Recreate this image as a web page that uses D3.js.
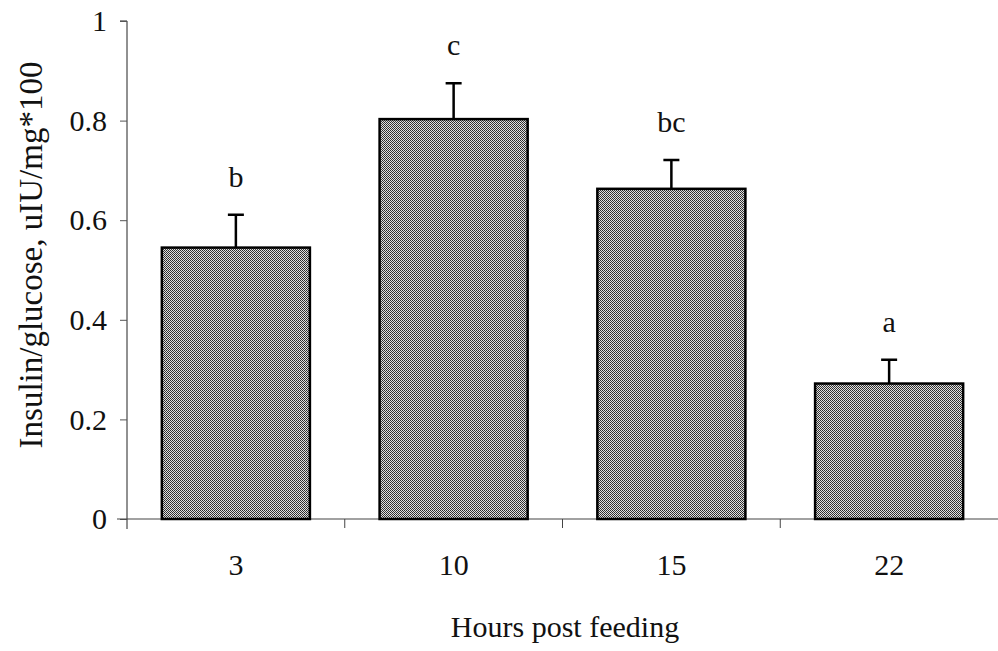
<!DOCTYPE html>
<html>
<head>
<meta charset="utf-8">
<script src="https://cdn.jsdelivr.net/npm/d3@7"></script>
<style>
	body { margin: 0; background: #fff; }
	text { font-family: "Liberation Serif", "DejaVu Serif", serif; fill: #111; }
</style>
</head>
<body>
<script>
var hours = ["3", "10", "15", "22"];
var means = [0.545, 0.803, 0.663, 0.272];
var errors = [0.066, 0.072, 0.058, 0.048];
var letters = ["b", "c", "bc", "a"];
var yTicks = [0, 0.2, 0.4, 0.6, 0.8, 1];

var width = 998, height = 651;
var plotLeft = 127, plotRight = 998, plotTop = 21, plotBottom = 519;

var svg = d3.select("body").append("svg")
	.attr("width", width)
	.attr("height", height);

// dithered grey fill like the scanned figure
var pat = svg.append("defs").append("pattern")
	.attr("id", "dots")
	.attr("width", 2).attr("height", 2)
	.attr("patternUnits", "userSpaceOnUse");
pat.append("rect").attr("width", 2).attr("height", 2).attr("fill", "#e0e0e0");
pat.append("rect").attr("width", 1).attr("height", 1).attr("fill", "#2a2a2a");
pat.append("rect").attr("x", 1).attr("y", 1).attr("width", 1).attr("height", 1).attr("fill", "#3a3a3a");

var x = d3.scaleBand()
	.domain(hours)
	.range([plotLeft, plotRight])
	.paddingInner(0.32)
	.paddingOuter(0.16);

var y = d3.scaleLinear()
	.domain([0, 1])
	.range([plotBottom, plotTop]);

// y axis
var yAxis = svg.append("g")
	.attr("transform", "translate(" + plotLeft + ",0)")
	.call(d3.axisLeft(y).tickValues(yTicks).tickSize(7).tickPadding(13)
		.tickFormat(function (d) { return d === 0 || d === 1 ? d : d3.format(".1f")(d); }));
yAxis.select(".domain").attr("d", "M-7," + y(1) + "H0V" + (plotBottom + 10)).attr("stroke", "#222");
yAxis.selectAll(".tick line").attr("stroke", "#555");
yAxis.selectAll("text").attr("font-size", "30px").attr("fill", "#111");

// x axis
var step = x.step();
var xg = svg.append("g").attr("transform", "translate(0," + plotBottom + ")");
xg.append("line")
	.attr("x1", plotLeft - 10).attr("x2", plotRight)
	.attr("stroke", "#444").attr("stroke-width", 1.2);
xg.selectAll(".sep")
	.data(hours.slice(1))
	.enter().append("line")
	.attr("class", "sep")
	.attr("x1", function (d) { return x(d) - x.paddingInner() * step / 2; })
	.attr("x2", function (d) { return x(d) - x.paddingInner() * step / 2; })
	.attr("y1", 0).attr("y2", 9)
	.attr("stroke", "#444");
xg.selectAll(".lab")
	.data(hours)
	.enter().append("text")
	.attr("class", "lab")
	.attr("x", function (d) { return x(d) + x.bandwidth() / 2; })
	.attr("y", 56)
	.attr("text-anchor", "middle")
	.attr("font-size", "30px")
	.text(function (d) { return d; });

// bars
var data = hours.map(function (h, i) { return { h: h, m: means[i], e: errors[i], l: letters[i] }; });

svg.selectAll(".bar")
	.data(data)
	.enter().append("rect")
	.attr("class", "bar")
	.attr("x", function (d) { return x(d.h); })
	.attr("y", function (d) { return y(d.m); })
	.attr("width", x.bandwidth())
	.attr("height", function (d) { return y(0) - y(d.m); })
	.attr("fill", "url(#dots)")
	.attr("stroke", "#000")
	.attr("stroke-width", 2.5);

// error bars (upper only)
svg.selectAll(".err")
	.data(data)
	.enter().append("path")
	.attr("class", "err")
	.attr("d", function (d) {
		var cx = x(d.h) + x.bandwidth() / 2;
		return "M" + cx + "," + y(d.m) + "V" + y(d.m + d.e) + "M" + (cx - 8) + "," + y(d.m + d.e) + "H" + (cx + 8);
	})
	.attr("fill", "none")
	.attr("stroke", "#000")
	.attr("stroke-width", 2.5);

// significance letters
svg.selectAll(".sig")
	.data(data)
	.enter().append("text")
	.attr("class", "sig")
	.attr("x", function (d) { return x(d.h) + x.bandwidth() / 2; })
	.attr("y", function (d) { return y(d.m + d.e) - 28; })
	.attr("text-anchor", "middle")
	.attr("font-size", "30px")
	.text(function (d) { return d.l; });

// axis titles
svg.append("text")
	.attr("x", 565)
	.attr("y", 637)
	.attr("text-anchor", "middle")
	.attr("font-size", "30px")
	.text("Hours post feeding");

svg.append("text")
	.attr("transform", "translate(42," + 255 + ") rotate(-90)")
	.attr("text-anchor", "middle")
	.attr("font-size", "33px")
	.text("Insulin/glucose, uIU/mg*100");
</script>
</body>
</html>
